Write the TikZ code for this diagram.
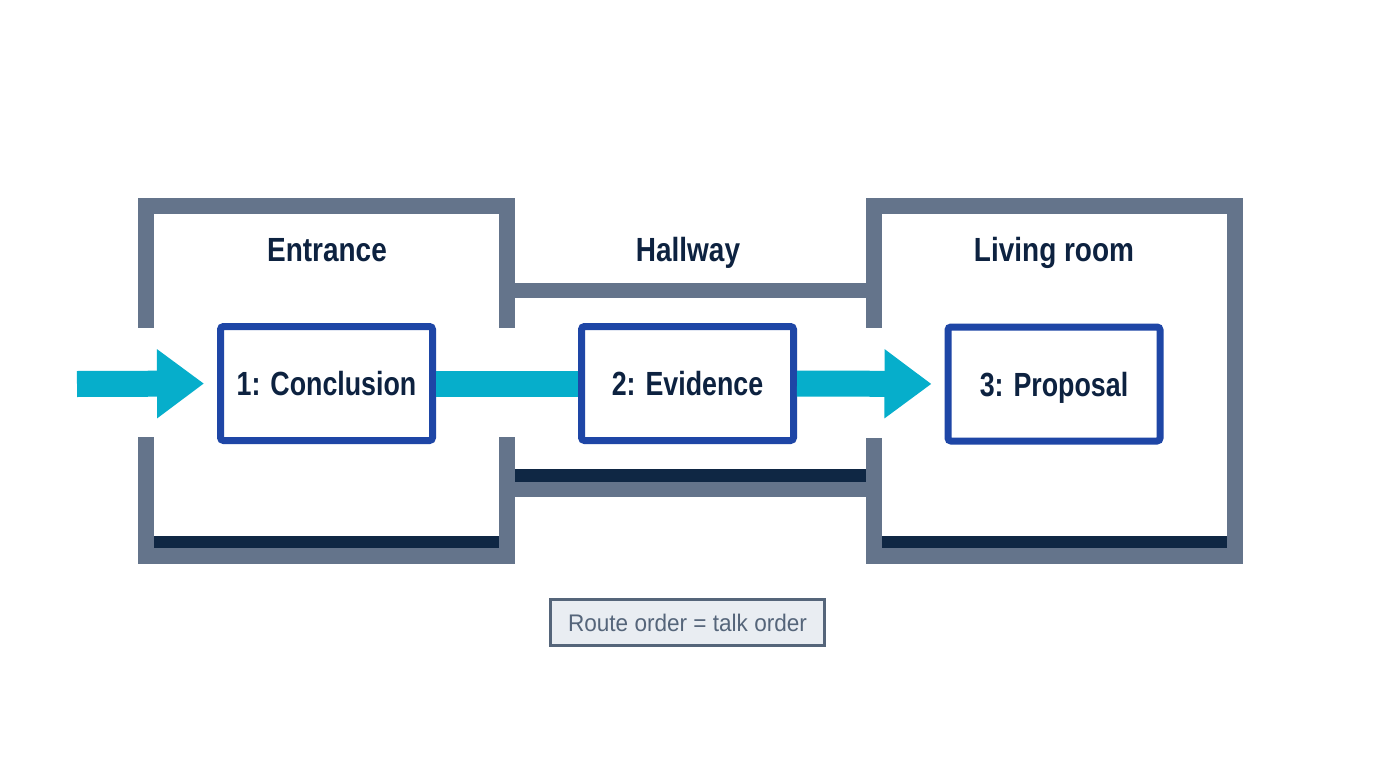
\documentclass[tikz,border=0pt]{standalone}
\usepackage{fontspec}
\setmainfont{Liberation Sans}
\newfontfamily\titlefont[FakeStretch=0.835]{Liberation Sans}
\newfontfamily\stepfont[FakeStretch=0.80]{Liberation Sans}
\newfontfamily\notefont[FakeStretch=0.94]{Liberation Sans}
\usetikzlibrary{arrows.meta}
\definecolor{wallgray}{HTML}{64748B}
\definecolor{wallnavy}{HTML}{0F2744}
\definecolor{flowcyan}{HTML}{06AECB}
\definecolor{boxblue}{HTML}{1E46A6}
\definecolor{inknavy}{HTML}{0D2240}
\definecolor{notegray}{HTML}{55657A}
\definecolor{notefill}{HTML}{E9EDF2}
\tikzset{
  wall/.style={fill=wallgray},
  floorline/.style={fill=wallnavy},
  roomtitle/.style={anchor=base, text=inknavy, font=\titlefont\bfseries\fontsize{33.5}{40}\selectfont},
  stepbox/.style={draw=boxblue, line width=7pt, fill=white, rounded corners=3pt,
    minimum width=212pt, minimum height=114pt, inner sep=0pt,
    text height=24pt, text depth=0pt, text=inknavy,
    font=\stepfont\bfseries\fontsize{33.5}{40}\selectfont},
  flow/.style={draw=flowcyan, line width=26pt},
  flowarrow/.style={flow, -{Triangle[length=47pt,width=66pt]}},
  notebox/.style={draw=notegray, line width=2.5pt, fill=notefill,
    minimum width=274pt, minimum height=46pt, inner sep=0pt,
    text height=17pt, text depth=0pt, text=notegray,
    font=\notefont\fontsize{24}{28}\selectfont}
}
\begin{document}
\begin{tikzpicture}[x=1pt,y=-1pt]
\useasboundingbox[fill=white] (0,0) rectangle (1376,768);
% Entrance walls
\fill[wall] (138,198) rectangle (515,214);
\fill[wall] (138,198) rectangle (154,328);
\fill[wall] (138,437) rectangle (154,564);
\fill[wall] (499,198) rectangle (515,328);
\fill[wall] (499,437) rectangle (515,564);
\fill[wall] (138,548) rectangle (515,564);
\fill[floorline] (154,536) rectangle (499,548);
% Hallway walls
\fill[wall] (515,283) rectangle (866,298);
\fill[wall] (515,482) rectangle (866,497);
\fill[floorline] (515,469) rectangle (866,482);
% Living room walls
\fill[wall] (866,198) rectangle (1243,214);
\fill[wall] (866,198) rectangle (882,328);
\fill[wall] (866,438) rectangle (882,564);
\fill[wall] (1227,198) rectangle (1243,564);
\fill[wall] (866,548) rectangle (1243,564);
\fill[floorline] (882,536) rectangle (1227,548);
% Room titles
\node[roomtitle] (tEntrance) at (327,261) {Entrance};
\node[roomtitle] (tHallway) at (688,261) {Hallway};
\node[roomtitle] (tLiving) at (1054,261) {Living room};
% Steps
\node[stepbox] (b1) at (326.5,383.5) {1: Conclusion};
\node[stepbox] (b2) at (687.5,383.5) {2: Evidence};
\node[stepbox] (b3) at (1054,384) {3: Proposal};
% Connectors
\coordinate (start) at (77,384);
\draw[flowarrow, shorten >=13pt] (start) -- (b1.west);
\draw[flow] (b1.east) -- (b2.west);
\draw[flowarrow, shorten >=13pt] (b2.east) -- (b3.west);
% Note
\node[notebox] (note) at (687.5,622.5) {Route order = talk order};
\end{tikzpicture}
\end{document}
